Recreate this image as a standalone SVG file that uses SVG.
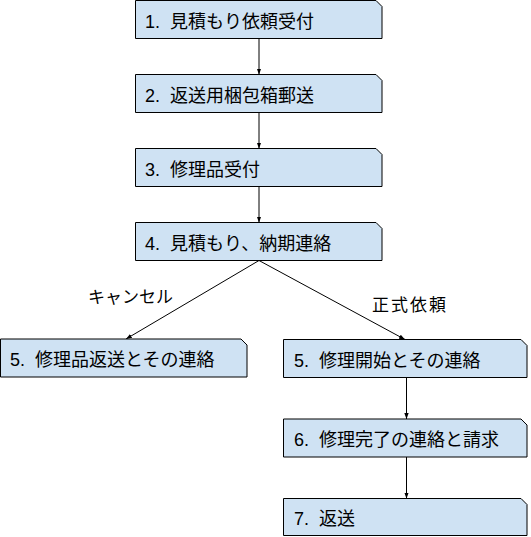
<svg xmlns="http://www.w3.org/2000/svg" width="531" height="537" viewBox="0 0 531 537">
<defs>
<style>
.box{fill:#cfe2f3;stroke:#000;stroke-width:1}
.t{font-family:"Liberation Sans","Noto Sans CJK JP",sans-serif;font-size:18px;fill:#000}
.lbl{font-family:"Liberation Sans","Noto Sans CJK JP",sans-serif;font-size:17px;fill:#000}
.c{stroke:#000;stroke-width:1;fill:none;marker-end:url(#ah)}
</style>
<marker id="ah" viewBox="0 0 6 6" refX="6" refY="3" markerWidth="6" markerHeight="6" markerUnits="userSpaceOnUse" orient="auto">
<path d="M0,0.8 L6,3 L0,5.2 Z" fill="#000"/>
</marker>
</defs>
<rect width="531" height="537" fill="#fff"/>
<g id="connectors">
<line class="c" x1="259" y1="38.5" x2="259" y2="74.5"/>
<line class="c" x1="259" y1="112.5" x2="259" y2="148.5"/>
<line class="c" x1="259" y1="186.5" x2="259" y2="222.5"/>
<line class="c" x1="259" y1="260.5" x2="126" y2="339"/>
<line class="c" x1="259" y1="260.5" x2="405" y2="339.5"/>
<line class="c" x1="406.5" y1="377.5" x2="406.5" y2="419"/>
<line class="c" x1="406.5" y1="457" x2="406.5" y2="498.5"/>
<text class="lbl" x="88" y="303">キャンセル</text>
<text class="lbl" x="372" y="311" letter-spacing="2">正式依頼</text>
</g>
<g id="n1"><path class="box" d="M135.5,0.5 H376 L382,6.5 V38.5 H135.5 Z"/><text class="t" y="27.5"><tspan x="145">1.</tspan><tspan x="170">見積もり依頼受付</tspan></text></g>
<g id="n2"><path class="box" d="M135.5,74.5 H376 L382,80.5 V112.5 H135.5 Z"/><text class="t" y="101.5"><tspan x="145">2.</tspan><tspan x="170">返送用梱包箱郵送</tspan></text></g>
<g id="n3"><path class="box" d="M135.5,148.5 H376 L382,154.5 V186.5 H135.5 Z"/><text class="t" y="175.5"><tspan x="145">3.</tspan><tspan x="170">修理品受付</tspan></text></g>
<g id="n4"><path class="box" d="M135.5,222.5 H376 L382,228.5 V260.5 H135.5 Z"/><text class="t" y="249.5"><tspan x="145">4.</tspan><tspan x="170">見積もり、納期連絡</tspan></text></g>
<g id="n5a"><path class="box" d="M0.5,339 H241 L247,345 V377 H0.5 Z"/><text class="t" y="366"><tspan x="10">5.</tspan><tspan x="35">修理品返送とその連絡</tspan></text></g>
<g id="n5b"><path class="box" d="M283.5,339.5 H521 L527,345.5 V377.5 H283.5 Z"/><text class="t" y="366.5"><tspan x="294">5.</tspan><tspan x="319">修理開始とその連絡</tspan></text></g>
<g id="n6"><path class="box" d="M283.5,419 H521 L527,425 V457 H283.5 Z"/><text class="t" y="446"><tspan x="294">6.</tspan><tspan x="319">修理完了の連絡と請求</tspan></text></g>
<g id="n7"><path class="box" d="M283.5,498.5 H521 L527,504.5 V535.5 H283.5 Z"/><text class="t" y="525"><tspan x="294">7.</tspan><tspan x="319">返送</tspan></text></g>
</svg>
